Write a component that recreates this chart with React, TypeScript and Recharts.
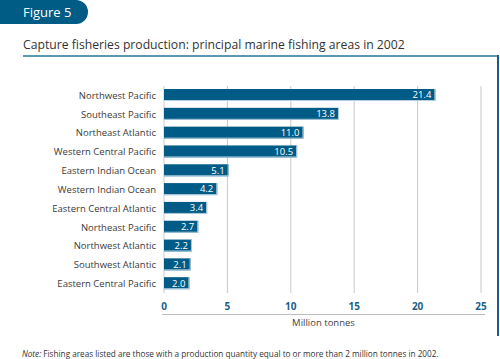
import { BarChart, Bar, XAxis, YAxis, CartesianGrid, LabelList } from 'recharts'

const areas = [
  'Northwest Pacific',
  'Southeast Pacific',
  'Northeast Atlantic',
  'Western Central Pacific',
  'Eastern Indian Ocean',
  'Western Indian Ocean',
  'Eastern Central Atlantic',
  'Northeast Pacific',
  'Northwest Atlantic',
  'Southwest Atlantic',
  'Eastern Central Pacific',
]

const production = [21.4, 13.8, 11.0, 10.5, 5.1, 4.2, 3.4, 2.7, 2.2, 2.1, 2.0]

const xTicks = [0, 5, 10, 15, 20, 25]

const data = areas.map((area, i) => ({ area, value: production[i] }))

const FONT = '"Open Sans", "Noto Sans", sans-serif'
const BLUE = '#005c87'

const BarShape = (props: any) => {
  const { x, y, width, height } = props
  return (
    <g>
      <rect x={x} y={y} width={width} height={height} fill={BLUE} />
      <line x1={x + width - 0.5} y1={y} x2={x + width - 0.5} y2={y + height} stroke="#b3d0e0" strokeWidth={1} />
      <line x1={x} y1={y + height - 0.5} x2={x + width} y2={y + height - 0.5} stroke="#b3d0e0" strokeWidth={1} />
    </g>
  )
}

export default function App() {
  return (
    <div
      style={{
        position: 'absolute',
        left: 0,
        top: 0,
        width: 500,
        height: 359,
        background: '#fff',
        fontFamily: FONT,
        overflow: 'hidden',
      }}
    >
      <div
        style={{
          position: 'absolute',
          left: 0,
          top: 0,
          width: 88,
          height: 24,
          background: '#005b85',
          borderRadius: '0 12px 12px 0',
          color: '#fff',
          fontSize: 13,
          lineHeight: '24px',
          paddingLeft: 23,
          boxSizing: 'border-box',
        }}
      >
        Figure 5
      </div>
      <div
        style={{
          position: 'absolute',
          left: 23,
          top: 36,
          fontSize: 12.2,
          color: '#333',
          whiteSpace: 'nowrap',
        }}
      >
        Capture fisheries production: principal marine fishing areas in 2002
      </div>
      <div style={{ position: 'absolute', left: 23, top: 55, width: 476, height: 2, background: '#5a98b6' }} />
      <div style={{ position: 'absolute', left: 497, top: 55, width: 2, height: 281, background: '#1d5d84' }} />

      <div style={{ position: 'absolute', left: 0, top: 0 }}>
        <BarChart
          width={500}
          height={359}
          data={data}
          layout="vertical"
          margin={{ top: 86, right: 19, left: 0, bottom: 36 }}
          barSize={12}
        >
          <CartesianGrid horizontal={false} stroke="#c9c9c9" strokeWidth={1} />
          <XAxis
            type="number"
            domain={[0, 25]}
            ticks={xTicks}
            axisLine={false}
            tickLine={false}
            tickSize={0}
            tickMargin={10}
            height={30}
            tick={{ fill: '#1b5f87', fontSize: 10, fontWeight: 700, fontFamily: FONT }}
            interval={0}
          />
          <YAxis
            type="category"
            dataKey="area"
            width={164}
            axisLine={false}
            tickLine={false}
            tickSize={0}
            tickMargin={8}
            tick={{ fill: '#3a3a3a', fontSize: 9.5, fontFamily: FONT }}
            interval={0}
          />
          <Bar dataKey="value" shape={BarShape} isAnimationActive={false}>
            <LabelList
              dataKey="value"
              position="insideRight"
              offset={4}
              fill="#fff"
              fontSize={9.5}
              fontFamily={FONT}
              formatter={(v: any) => Number(v).toFixed(1)}
            />
          </Bar>
        </BarChart>
      </div>

      <div style={{ position: 'absolute', left: 162, top: 314, width: 323, height: 1, background: '#bdbdbd' }} />
      <div
        style={{
          position: 'absolute',
          left: 162,
          width: 323,
          top: 316,
          textAlign: 'center',
          fontSize: 9.5,
          color: '#444',
        }}
      >
        Million tonnes
      </div>
      <div
        style={{
          position: 'absolute',
          left: 22,
          top: 348,
          fontSize: 8.2,
          color: '#333',
          whiteSpace: 'nowrap',
        }}
      >
        <i>Note:</i> Fishing areas listed are those with a production quantity equal to or more than 2 million tonnes in
        2002.
      </div>
    </div>
  )
}
